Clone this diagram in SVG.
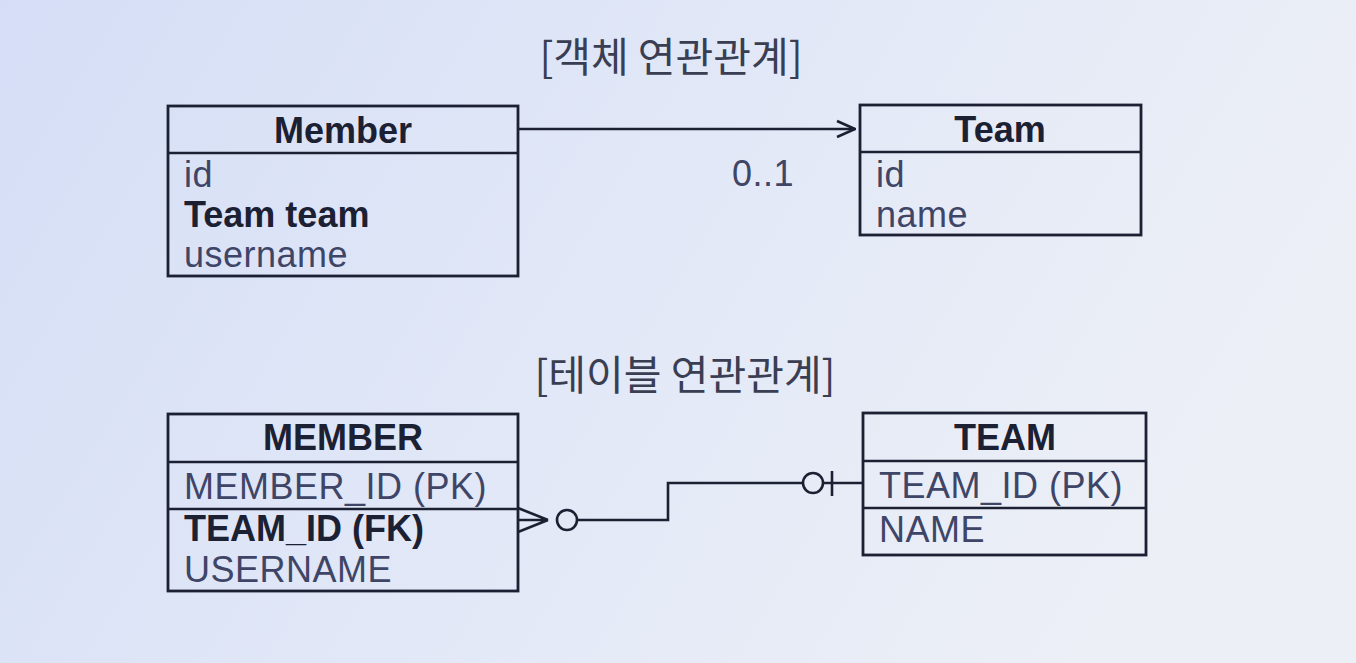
<svg xmlns="http://www.w3.org/2000/svg" width="1356" height="663" viewBox="0 0 1356 663">
<defs>
<linearGradient id="bg" x1="0" y1="0" x2="1" y2="0.3">
<stop offset="0" stop-color="#d5def6"/>
<stop offset="0.6" stop-color="#e3e9f7"/>
<stop offset="1" stop-color="#eceff6"/>
</linearGradient>
<marker id="open" viewBox="0 0 20 20" refX="19" refY="10" markerWidth="20" markerHeight="20" markerUnits="userSpaceOnUse" orient="auto">
<path d="M1,2 L19,10 L1,18" fill="none" stroke="#1c2033" stroke-width="2.6"/>
</marker>
<style>
.box{fill:none;stroke:#1c2033;stroke-width:2.8}
.ln{stroke:#1c2033;stroke-width:2.6;fill:none}
.hd{font-family:"Liberation Sans",Arial,sans-serif;font-weight:bold;font-size:36px;fill:#1c2033;text-anchor:middle}
.fd{font-family:"Liberation Sans",Arial,sans-serif;font-size:36px;fill:#3f4566;letter-spacing:0.5px}
.fb{font-family:"Liberation Sans",Arial,sans-serif;font-size:36px;font-weight:bold;fill:#1c2033}
.tt{font-family:"Noto Sans CJK KR","Noto Sans",sans-serif;font-size:41px;fill:#3a3e52;text-anchor:middle}
</style>
</defs>
<rect width="1356" height="663" fill="url(#bg)"/>

<text class="tt" x="671" y="72">[객체 연관관계]</text>
<text class="tt" x="685" y="390">[테이블 연관관계]</text>

<g id="node-member">
<rect x="168" y="106" width="350" height="170" class="box"/>
<line x1="168" y1="153" x2="518" y2="153" class="ln"/>
<text class="hd" x="343" y="143">Member</text>
<text class="fd" x="184" y="187">id</text>
<text class="fb" x="184" y="227">Team team</text>
<text class="fd" x="184" y="267">username</text>
</g>

<g id="node-team">
<rect x="860" y="105" width="281" height="130" class="box"/>
<line x1="860" y1="152" x2="1141" y2="152" class="ln"/>
<text class="hd" x="1000" y="142">Team</text>
<text class="fd" x="876" y="187">id</text>
<text class="fd" x="876" y="227">name</text>
</g>

<g id="node-MEMBER">
<rect x="168" y="414" width="350" height="177" class="box"/>
<line x1="168" y1="462" x2="518" y2="462" class="ln"/>
<line x1="168" y1="509" x2="518" y2="509" class="ln"/>
<text class="hd" x="343" y="450">MEMBER</text>
<text class="fd" x="184" y="499">MEMBER_ID (PK)</text>
<text class="fb" x="184" y="541">TEAM_ID (FK)</text>
<text class="fd" x="184" y="582">USERNAME</text>
</g>

<g id="node-TEAM">
<rect x="863" y="413" width="283" height="142" class="box"/>
<line x1="863" y1="461" x2="1146" y2="461" class="ln"/>
<line x1="863" y1="508" x2="1146" y2="508" class="ln"/>
<text class="hd" x="1005" y="450">TEAM</text>
<text class="fd" x="879" y="498">TEAM_ID (PK)</text>
<text class="fd" x="879" y="542">NAME</text>
</g>

<g id="connectors">
<line x1="518" y1="129" x2="855" y2="129" class="ln" marker-end="url(#open)"/>
<text class="fd" x="732" y="186">0..1</text>

<path d="M518,508 L548,520 M518,520 L548,520 M518,532 L548,520" class="ln"/>
<circle cx="567" cy="520" r="10" class="ln"/>
<path d="M577,520 L668,520 L668,483 L803,483" class="ln"/>
<circle cx="813" cy="483" r="10" class="ln"/>
<line x1="832" y1="471" x2="832" y2="496" class="ln"/>
<line x1="823" y1="483" x2="863" y2="483" class="ln"/>
</g>
</svg>
